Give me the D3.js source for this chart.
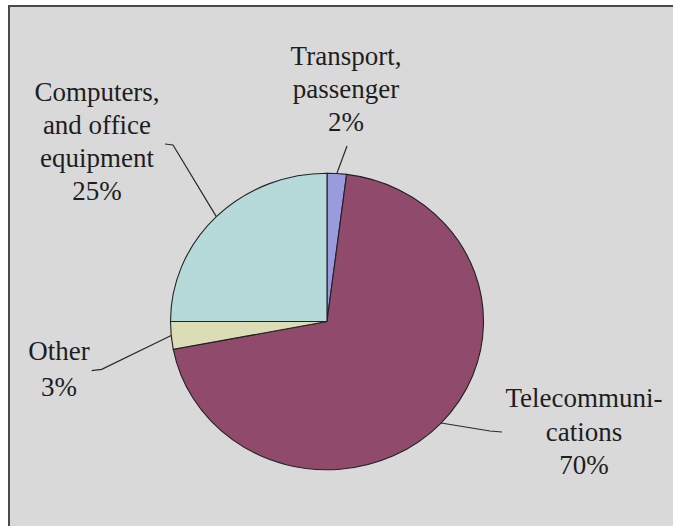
<!DOCTYPE html>
<html>
<head>
<meta charset="utf-8">
<script src="https://cdn.jsdelivr.net/npm/d3@7"></script>
<style>
  html, body { margin: 0; padding: 0; background: #ffffff; }
  svg { display: block; }
</style>
</head>
<body>
<svg id="chart" width="673" height="526"></svg>
<script>
// Shares of the category total, in pie order (clockwise from 12 o'clock)
const categories = ["Transport, passenger", "Telecommunications", "Other", "Computers, and office equipment"];
const values = [2, 70, 3, 25];
const labelLines = [
  ["Transport,", "passenger", "2%"],
  ["Telecommuni-", "cations", "70%"],
  ["Other", "3%"],
  ["Computers,", "and office", "equipment", "25%"]
];
const colors = ["#9a9ade", "#904a6c", "#dcdcb6", "#b6dada"];

// Layout
const W = 673, H = 526;
const cx = 327, cy = 321.5, rx = 156.5, ry = 148.3;
const labelLayout = [
  { x: 346, y: 65,  dy: 33, elbow: [[347, 146]] },
  { x: 584, y: 407, dy: 33.5, elbow: [[490, 431], [502, 432]] },
  { x: 59,  y: 360, dy: 36, elbow: [[101.7, 369.3], [91.7, 370.7]] },
  { x: 97,  y: 101, dy: 33, elbow: [[173, 145], [165, 144]] }
];
const fontStack = "'Liberation Serif', 'Times New Roman', Times, 'DejaVu Serif', serif";

const svg = d3.select("#chart");

// Panel with dark frame on the top and left
svg.append("rect")
  .attr("x", 9).attr("y", 6)
  .attr("width", W + 20).attr("height", H + 20)
  .attr("fill", "#d9d9d9")
  .attr("stroke", "#4a4a4a")
  .attr("stroke-width", 2);

const pie = d3.pie().sort(null).value(d => d)(values);
const arc = d3.arc().innerRadius(0).outerRadius(rx);

const g = svg.append("g")
  .attr("transform", `translate(${cx},${cy}) scale(1,${ry / rx})`);

g.selectAll("path.slice")
  .data(pie)
  .join("path")
  .attr("class", "slice")
  .attr("d", arc)
  .attr("fill", (d, i) => colors[i])
  .attr("stroke", "#222")
  .attr("stroke-width", 1.1)
  .attr("vector-effect", "non-scaling-stroke");

// Leader lines from each slice's mid-angle on the rim out to its label
const line = d3.line();
pie.forEach((d, i) => {
  const a = (d.startAngle + d.endAngle) / 2;
  const start = [cx + rx * Math.sin(a), cy - ry * Math.cos(a)];
  const pts = [start].concat(labelLayout[i].elbow);
  svg.append("path")
    .attr("d", line(pts))
    .attr("fill", "none")
    .attr("stroke", "#2a2a2a")
    .attr("stroke-width", 1.2);
});

// Multi-line labels
labelLines.forEach((lines, i) => {
  const L = labelLayout[i];
  const t = svg.append("text")
    .attr("font-family", fontStack)
    .attr("font-size", 27)
    .attr("fill", "#1e1e1e")
    .attr("text-anchor", "middle");
  lines.forEach((s, k) => {
    t.append("tspan")
      .attr("x", L.x)
      .attr("y", L.y + k * L.dy)
      .text(s);
  });
});
</script>
</body>
</html>
